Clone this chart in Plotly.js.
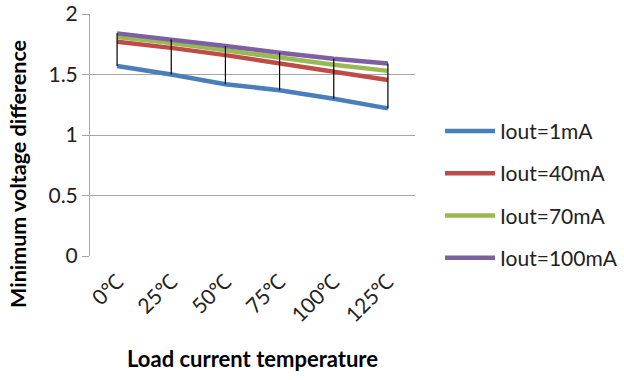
<!DOCTYPE html>
<html><head><meta charset="utf-8">
<script src="https://cdn.plot.ly/plotly-3.0.1.min.js"></script>
<style>html,body{margin:0;padding:0;background:#fff}#c{width:624px;height:380px}</style>
</head><body><div id="c"></div>
<script>
const categories = ['0℃','25℃','50℃','75℃','100℃','125℃'];
const iout1 = [1.57, 1.50, 1.42, 1.37, 1.30, 1.22];
const iout40 = [1.77, 1.72, 1.66, 1.59, 1.52, 1.455];
const iout70 = [1.81, 1.76, 1.70, 1.64, 1.58, 1.53];
const iout100 = [1.84, 1.79, 1.735, 1.68, 1.63, 1.59];
const seriesNames = ['Iout=1mA','Iout=40mA','Iout=70mA','Iout=100mA'];
const colors = ['#4a7ebb','#be4b48','#98b954','#7d60a0'];
const allSeries = [iout1, iout40, iout70, iout100];

const traces = allSeries.map((s,i)=>({
  x: categories, y: s, type:'scatter', mode:'lines', name: seriesNames[i],
  line:{color:colors[i], width:4.5}, legendgroup:'g'+i
}));
// high-low lines
const hlx=[], hly=[];
categories.forEach((c,j)=>{
  const vals = allSeries.map(s=>s[j]);
  hlx.push(c,c,null); hly.push(Math.min(...vals), Math.max(...vals), null);
});
traces.push({x:hlx, y:hly, type:'scatter', mode:'lines', line:{color:'#000', width:1.2}, showlegend:false, hoverinfo:'skip'});

const layout = {
  width:624, height:380,
  margin:{l:90, r:209, t:14, b:124, autoexpand:false},
  paper_bgcolor:'#fff', plot_bgcolor:'#fff',
  font:{family:'Lato, "Open Sans", sans-serif', color:'#222'},
  xaxis:{type:'category', categoryorder:'array', categoryarray:categories,
    range:[-0.5,5.5], tickangle:-45, tickfont:{size:21, color:'#222'},
    showgrid:false, showline:false, zeroline:false, ticks:'', ticklabelstandoff:8,
    title:{text:'<b>Load current temperature</b>', font:{size:22, color:'#000'}, standoff:26}},
  yaxis:{range:[0,2], dtick:0.5, tickfont:{size:21, color:'#222'},
    showgrid:true, gridcolor:'#a6a6a6', gridwidth:1, showline:true, linecolor:'#a6a6a6',
    ticks:'outside', ticklen:7, tickcolor:'#a6a6a6', zeroline:false},
  annotations:[{text:'<b>Minimum voltage difference</b>', textangle:-90, showarrow:false,
    xref:'paper', yref:'paper', x:-0.2215, y:0.339, xanchor:'center', yanchor:'middle',
    font:{size:21.5, color:'#000'}}],
  legend:{x:1.077, xanchor:'left', y:0.6, yanchor:'top', font:{size:21, color:'#222'},
    itemwidth:50, traceorder:'grouped', tracegroupgap:12, bgcolor:'rgba(0,0,0,0)'},
  showlegend:true
};
Plotly.newPlot('c', traces, layout, {staticPlot:true});
</script></body></html>
